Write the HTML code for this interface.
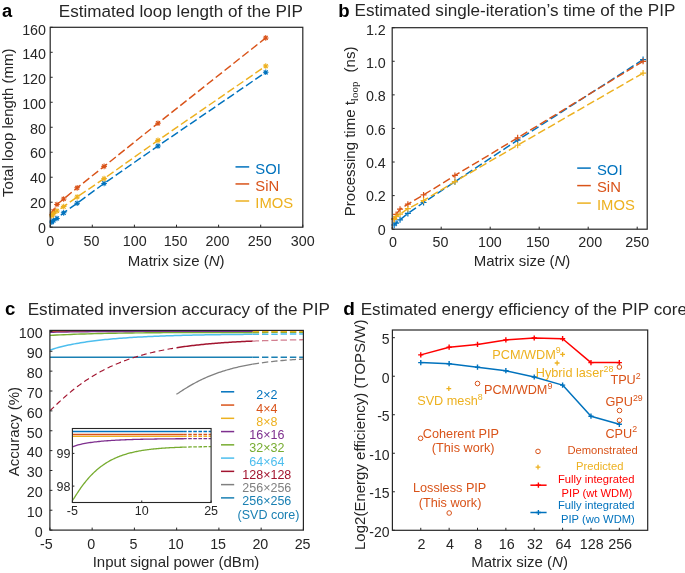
<!DOCTYPE html>
<html><head><meta charset="utf-8"><style>
html,body{margin:0;padding:0;background:#fff;}
svg{display:block;will-change:transform;}
text{font-family:"Liberation Sans", sans-serif;}
</style></head><body>
<svg width="685" height="573" viewBox="0 0 685 573">
<rect width="685" height="573" fill="#fff"/>
<text x="2" y="16.6" font-size="18.3" fill="#000" text-anchor="start" font-weight="bold" >a</text>
<text x="58.8" y="16.6" font-size="17.1" fill="#262626" text-anchor="start" font-weight="normal" >Estimated loop length of the PIP</text>
<polyline points="51.88,222.08 53.57,220.33 56.94,218.45 63.67,212.83 77.14,203.21 104.09,183.47 157.98,145.99 265.75,72.28" fill="none" stroke="#0072BD" stroke-width="1.45" stroke-dasharray="8,3.3" stroke-linejoin="round"/>
<path d="M49.08,222.08H54.68M51.88,219.28V224.88M49.87,220.06L53.9,224.09M49.87,224.09L53.9,220.06" stroke="#0072BD" stroke-width="1.05" fill="none"/>
<path d="M50.77,220.33H56.37M53.57,217.53V223.13M51.55,218.31L55.58,222.34M51.55,222.34L55.58,218.31" stroke="#0072BD" stroke-width="1.05" fill="none"/>
<path d="M54.14,218.45H59.74M56.94,215.65V221.25M54.92,216.44L58.95,220.47M54.92,220.47L58.95,216.44" stroke="#0072BD" stroke-width="1.05" fill="none"/>
<path d="M60.87,212.83H66.47M63.67,210.03V215.63M61.66,210.82L65.69,214.85M61.66,214.85L65.69,210.82" stroke="#0072BD" stroke-width="1.05" fill="none"/>
<path d="M74.34,203.21H79.94M77.14,200.41V206.01M75.13,201.2L79.16,205.23M75.13,205.23L79.16,201.2" stroke="#0072BD" stroke-width="1.05" fill="none"/>
<path d="M101.29,183.47H106.89M104.09,180.67V186.27M102.07,181.46L106.1,185.49M102.07,185.49L106.1,181.46" stroke="#0072BD" stroke-width="1.05" fill="none"/>
<path d="M155.18,145.99H160.78M157.98,143.19V148.79M155.96,143.97L159.99,148.01M155.96,148.01L159.99,143.97" stroke="#0072BD" stroke-width="1.05" fill="none"/>
<path d="M262.95,72.28H268.55M265.75,69.48V75.08M263.74,70.26L267.77,74.29M263.74,74.29L267.77,70.26" stroke="#0072BD" stroke-width="1.05" fill="none"/>
<polyline points="51.88,214.71 53.57,211.21 56.94,204.46 63.67,198.96 77.14,187.84 104.09,166.36 157.98,123.25 265.75,37.92" fill="none" stroke="#D95319" stroke-width="1.45" stroke-dasharray="8,3.3" stroke-linejoin="round"/>
<path d="M49.08,214.71H54.68M51.88,211.91V217.51M49.87,212.69L53.9,216.72M49.87,216.72L53.9,212.69" stroke="#D95319" stroke-width="1.05" fill="none"/>
<path d="M50.77,211.21H56.37M53.57,208.41V214.01M51.55,209.19L55.58,213.22M51.55,213.22L55.58,209.19" stroke="#D95319" stroke-width="1.05" fill="none"/>
<path d="M54.14,204.46H59.74M56.94,201.66V207.26M54.92,202.45L58.95,206.48M54.92,206.48L58.95,202.45" stroke="#D95319" stroke-width="1.05" fill="none"/>
<path d="M60.87,198.96H66.47M63.67,196.16V201.76M61.66,196.95L65.69,200.98M61.66,200.98L65.69,196.95" stroke="#D95319" stroke-width="1.05" fill="none"/>
<path d="M74.34,187.84H79.94M77.14,185.04V190.64M75.13,185.83L79.16,189.86M75.13,189.86L79.16,185.83" stroke="#D95319" stroke-width="1.05" fill="none"/>
<path d="M101.29,166.36H106.89M104.09,163.56V169.16M102.07,164.34L106.1,168.37M102.07,168.37L106.1,164.34" stroke="#D95319" stroke-width="1.05" fill="none"/>
<path d="M155.18,123.25H160.78M157.98,120.45V126.05M155.96,121.24L159.99,125.27M155.96,125.27L159.99,121.24" stroke="#D95319" stroke-width="1.05" fill="none"/>
<path d="M262.95,37.92H268.55M265.75,35.12V40.72M263.74,35.9L267.77,39.94M263.74,39.94L267.77,35.9" stroke="#D95319" stroke-width="1.05" fill="none"/>
<polyline points="51.88,215.71 53.57,213.46 56.94,210.96 63.67,206.59 77.14,196.97 104.09,178.6 157.98,140.37 265.75,66.03" fill="none" stroke="#EDB120" stroke-width="1.45" stroke-dasharray="8,3.3" stroke-linejoin="round"/>
<path d="M49.08,215.71H54.68M51.88,212.91V218.51M49.87,213.69L53.9,217.72M49.87,217.72L53.9,213.69" stroke="#EDB120" stroke-width="1.05" fill="none"/>
<path d="M50.77,213.46H56.37M53.57,210.66V216.26M51.55,211.44L55.58,215.47M51.55,215.47L55.58,211.44" stroke="#EDB120" stroke-width="1.05" fill="none"/>
<path d="M54.14,210.96H59.74M56.94,208.16V213.76M54.92,208.94L58.95,212.97M54.92,212.97L58.95,208.94" stroke="#EDB120" stroke-width="1.05" fill="none"/>
<path d="M60.87,206.59H66.47M63.67,203.79V209.39M61.66,204.57L65.69,208.6M61.66,208.6L65.69,204.57" stroke="#EDB120" stroke-width="1.05" fill="none"/>
<path d="M74.34,196.97H79.94M77.14,194.17V199.77M75.13,194.95L79.16,198.98M75.13,198.98L79.16,194.95" stroke="#EDB120" stroke-width="1.05" fill="none"/>
<path d="M101.29,178.6H106.89M104.09,175.8V181.4M102.07,176.58L106.1,180.62M102.07,180.62L106.1,176.58" stroke="#EDB120" stroke-width="1.05" fill="none"/>
<path d="M155.18,140.37H160.78M157.98,137.57V143.17M155.96,138.35L159.99,142.38M155.96,142.38L159.99,138.35" stroke="#EDB120" stroke-width="1.05" fill="none"/>
<path d="M262.95,66.03H268.55M265.75,63.23V68.83M263.74,64.01L267.77,68.05M263.74,68.05L267.77,64.01" stroke="#EDB120" stroke-width="1.05" fill="none"/>
<rect x="50.2" y="27.3" width="252.6" height="199.9" fill="none" stroke="#262626" stroke-width="1.2"/>
<path d="M50.2,227.2H52.7" stroke="#262626" stroke-width="1.0"/>
<path d="M50.2,202.21H52.7" stroke="#262626" stroke-width="1.0"/>
<path d="M50.2,177.22H52.7" stroke="#262626" stroke-width="1.0"/>
<path d="M50.2,152.24H52.7" stroke="#262626" stroke-width="1.0"/>
<path d="M50.2,127.25H52.7" stroke="#262626" stroke-width="1.0"/>
<path d="M50.2,102.26H52.7" stroke="#262626" stroke-width="1.0"/>
<path d="M50.2,77.28H52.7" stroke="#262626" stroke-width="1.0"/>
<path d="M50.2,52.29H52.7" stroke="#262626" stroke-width="1.0"/>
<path d="M50.2,27.3H52.7" stroke="#262626" stroke-width="1.0"/>
<path d="M50.2,227.2V224.7" stroke="#262626" stroke-width="1.0"/>
<path d="M92.3,227.2V224.7" stroke="#262626" stroke-width="1.0"/>
<path d="M134.4,227.2V224.7" stroke="#262626" stroke-width="1.0"/>
<path d="M176.5,227.2V224.7" stroke="#262626" stroke-width="1.0"/>
<path d="M218.6,227.2V224.7" stroke="#262626" stroke-width="1.0"/>
<path d="M260.7,227.2V224.7" stroke="#262626" stroke-width="1.0"/>
<path d="M302.8,227.2V224.7" stroke="#262626" stroke-width="1.0"/>
<text x="46" y="34.5" font-size="14.3" fill="#262626" text-anchor="end" font-weight="normal" >160</text>
<text x="46" y="59.25" font-size="14.3" fill="#262626" text-anchor="end" font-weight="normal" >140</text>
<text x="46" y="84" font-size="14.3" fill="#262626" text-anchor="end" font-weight="normal" >120</text>
<text x="46" y="108.75" font-size="14.3" fill="#262626" text-anchor="end" font-weight="normal" >100</text>
<text x="46" y="133.5" font-size="14.3" fill="#262626" text-anchor="end" font-weight="normal" >80</text>
<text x="46" y="158.25" font-size="14.3" fill="#262626" text-anchor="end" font-weight="normal" >60</text>
<text x="46" y="183" font-size="14.3" fill="#262626" text-anchor="end" font-weight="normal" >40</text>
<text x="46" y="207.75" font-size="14.3" fill="#262626" text-anchor="end" font-weight="normal" >20</text>
<text x="46" y="232.5" font-size="14.3" fill="#262626" text-anchor="end" font-weight="normal" >0</text>
<text x="50.3" y="246.3" font-size="14.3" fill="#262626" text-anchor="middle" font-weight="normal" >0</text>
<text x="91.4" y="246.3" font-size="14.3" fill="#262626" text-anchor="middle" font-weight="normal" >50</text>
<text x="134.7" y="246.3" font-size="14.3" fill="#262626" text-anchor="middle" font-weight="normal" >100</text>
<text x="175.6" y="246.3" font-size="14.3" fill="#262626" text-anchor="middle" font-weight="normal" >150</text>
<text x="217.5" y="246.3" font-size="14.3" fill="#262626" text-anchor="middle" font-weight="normal" >200</text>
<text x="259.7" y="246.3" font-size="14.3" fill="#262626" text-anchor="middle" font-weight="normal" >250</text>
<text x="302.7" y="246.3" font-size="14.3" fill="#262626" text-anchor="middle" font-weight="normal" >300</text>
<text x="176.2" y="265.6" font-size="15" fill="#262626" text-anchor="middle" font-weight="normal" >Matrix size (<tspan font-style="italic">N</tspan>)</text>
<text transform="translate(12.8,122.7) rotate(-90)" font-size="15" fill="#262626" text-anchor="middle" >Total loop length (mm)</text>
<path d="M235.5,166.9H249.2" stroke="#0072BD" stroke-width="1.5"/>
<text x="255.3" y="173.5" font-size="14.8" fill="#0072BD" text-anchor="start" font-weight="normal" >SOI</text>
<path d="M235.5,183.95H249.2" stroke="#D95319" stroke-width="1.5"/>
<text x="255.3" y="190.55" font-size="14.8" fill="#D95319" text-anchor="start" font-weight="normal" >SiN</text>
<path d="M235.5,201H249.2" stroke="#EDB120" stroke-width="1.5"/>
<text x="255.3" y="207.6" font-size="14.8" fill="#EDB120" text-anchor="start" font-weight="normal" >IMOS</text>
<text x="338.3" y="16.6" font-size="18.6" fill="#000" text-anchor="start" font-weight="bold" >b</text>
<text x="354.6" y="16.3" font-size="17.1" fill="#262626" text-anchor="start" font-weight="normal" >Estimated single-iteration’s time of the PIP</text>
<polyline points="643.08,59.6 517.64,140.2 454.92,181.68 423.56,202.5 407.88,213.42 400.04,219.8 396.12,223.16 394.16,225" fill="none" stroke="#0072BD" stroke-width="1.45" stroke-dasharray="8,3.3" stroke-linejoin="round"/>
<path d="M391.16,225H397.16M394.16,222V228" stroke="#0072BD" stroke-width="1.2" fill="none"/>
<path d="M393.12,223.16H399.12M396.12,220.16V226.16" stroke="#0072BD" stroke-width="1.2" fill="none"/>
<path d="M397.04,219.8H403.04M400.04,216.8V222.8" stroke="#0072BD" stroke-width="1.2" fill="none"/>
<path d="M404.88,213.42H410.88M407.88,210.42V216.42" stroke="#0072BD" stroke-width="1.2" fill="none"/>
<path d="M420.56,202.5H426.56M423.56,199.5V205.5" stroke="#0072BD" stroke-width="1.2" fill="none"/>
<path d="M451.92,181.68H457.92M454.92,178.68V184.68" stroke="#0072BD" stroke-width="1.2" fill="none"/>
<path d="M514.64,140.2H520.64M517.64,137.2V143.2" stroke="#0072BD" stroke-width="1.2" fill="none"/>
<path d="M640.08,59.6H646.08M643.08,56.6V62.6" stroke="#0072BD" stroke-width="1.2" fill="none"/>
<polyline points="643.08,61.28 517.64,137.85 454.92,175.47 423.56,194.94 407.88,204.18 400.04,209.22 396.12,214.42 394.16,218.79" fill="none" stroke="#D95319" stroke-width="1.45" stroke-dasharray="8,3.3" stroke-linejoin="round"/>
<path d="M391.16,218.79H397.16M394.16,215.79V221.79" stroke="#D95319" stroke-width="1.2" fill="none"/>
<path d="M393.12,214.42H399.12M396.12,211.42V217.42" stroke="#D95319" stroke-width="1.2" fill="none"/>
<path d="M397.04,209.22H403.04M400.04,206.22V212.22" stroke="#D95319" stroke-width="1.2" fill="none"/>
<path d="M404.88,204.18H410.88M407.88,201.18V207.18" stroke="#D95319" stroke-width="1.2" fill="none"/>
<path d="M420.56,194.94H426.56M423.56,191.94V197.94" stroke="#D95319" stroke-width="1.2" fill="none"/>
<path d="M451.92,175.47H457.92M454.92,172.47V178.47" stroke="#D95319" stroke-width="1.2" fill="none"/>
<path d="M514.64,137.85H520.64M517.64,134.85V140.85" stroke="#D95319" stroke-width="1.2" fill="none"/>
<path d="M640.08,61.28H646.08M643.08,58.28V64.28" stroke="#D95319" stroke-width="1.2" fill="none"/>
<polyline points="643.08,73.04 517.64,145.24 454.92,181.68 423.56,200.49 407.88,208.71 400.04,214.09 396.12,216.61 394.16,219.46" fill="none" stroke="#EDB120" stroke-width="1.45" stroke-dasharray="8,3.3" stroke-linejoin="round"/>
<path d="M391.16,219.46H397.16M394.16,216.46V222.46" stroke="#EDB120" stroke-width="1.2" fill="none"/>
<path d="M393.12,216.61H399.12M396.12,213.61V219.61" stroke="#EDB120" stroke-width="1.2" fill="none"/>
<path d="M397.04,214.09H403.04M400.04,211.09V217.09" stroke="#EDB120" stroke-width="1.2" fill="none"/>
<path d="M404.88,208.71H410.88M407.88,205.71V211.71" stroke="#EDB120" stroke-width="1.2" fill="none"/>
<path d="M420.56,200.49H426.56M423.56,197.49V203.49" stroke="#EDB120" stroke-width="1.2" fill="none"/>
<path d="M451.92,181.68H457.92M454.92,178.68V184.68" stroke="#EDB120" stroke-width="1.2" fill="none"/>
<path d="M514.64,145.24H520.64M517.64,142.24V148.24" stroke="#EDB120" stroke-width="1.2" fill="none"/>
<path d="M640.08,73.04H646.08M643.08,70.04V76.04" stroke="#EDB120" stroke-width="1.2" fill="none"/>
<rect x="392.2" y="27.7" width="255" height="201.5" fill="none" stroke="#262626" stroke-width="1.2"/>
<path d="M392.2,229.2H394.7" stroke="#262626" stroke-width="1.0"/>
<path d="M392.2,195.62H394.7" stroke="#262626" stroke-width="1.0"/>
<path d="M392.2,162.03H394.7" stroke="#262626" stroke-width="1.0"/>
<path d="M392.2,128.45H394.7" stroke="#262626" stroke-width="1.0"/>
<path d="M392.2,94.87H394.7" stroke="#262626" stroke-width="1.0"/>
<path d="M392.2,61.28H394.7" stroke="#262626" stroke-width="1.0"/>
<path d="M392.2,27.7H394.7" stroke="#262626" stroke-width="1.0"/>
<path d="M392.2,229.2V226.7" stroke="#262626" stroke-width="1.0"/>
<path d="M441.2,229.2V226.7" stroke="#262626" stroke-width="1.0"/>
<path d="M490.2,229.2V226.7" stroke="#262626" stroke-width="1.0"/>
<path d="M539.2,229.2V226.7" stroke="#262626" stroke-width="1.0"/>
<path d="M588.2,229.2V226.7" stroke="#262626" stroke-width="1.0"/>
<path d="M637.2,229.2V226.7" stroke="#262626" stroke-width="1.0"/>
<text x="385.8" y="234.6" font-size="14.3" fill="#262626" text-anchor="end" font-weight="normal" >0</text>
<text x="385.8" y="201.27" font-size="14.3" fill="#262626" text-anchor="end" font-weight="normal" >0.2</text>
<text x="385.8" y="167.93" font-size="14.3" fill="#262626" text-anchor="end" font-weight="normal" >0.4</text>
<text x="385.8" y="134.6" font-size="14.3" fill="#262626" text-anchor="end" font-weight="normal" >0.6</text>
<text x="385.8" y="101.27" font-size="14.3" fill="#262626" text-anchor="end" font-weight="normal" >0.8</text>
<text x="385.8" y="67.93" font-size="14.3" fill="#262626" text-anchor="end" font-weight="normal" >1.0</text>
<text x="385.8" y="34.6" font-size="14.3" fill="#262626" text-anchor="end" font-weight="normal" >1.2</text>
<text x="392.9" y="246.5" font-size="14.3" fill="#262626" text-anchor="middle" font-weight="normal" >0</text>
<text x="440.5" y="246.5" font-size="14.3" fill="#262626" text-anchor="middle" font-weight="normal" >50</text>
<text x="489.9" y="246.5" font-size="14.3" fill="#262626" text-anchor="middle" font-weight="normal" >100</text>
<text x="537.9" y="246.5" font-size="14.3" fill="#262626" text-anchor="middle" font-weight="normal" >150</text>
<text x="590.2" y="246.5" font-size="14.3" fill="#262626" text-anchor="middle" font-weight="normal" >200</text>
<text x="637.3" y="246.5" font-size="14.3" fill="#262626" text-anchor="middle" font-weight="normal" >250</text>
<text x="522" y="265.8" font-size="15" fill="#262626" text-anchor="middle" font-weight="normal" >Matrix size (<tspan font-style="italic">N</tspan>)</text>
<text transform="translate(355.3,216.2) rotate(-90)" font-size="15" fill="#262626" text-anchor="start">Processing time t<tspan font-family="Liberation Serif" font-size="11" dy="2.2">loop</tspan><tspan dy="-2.2" dx="5"> (ns)</tspan></text>
<path d="M577.2,168.1H590.8" stroke="#0072BD" stroke-width="1.5"/>
<text x="597" y="174.5" font-size="14.8" fill="#0072BD" text-anchor="start" font-weight="normal" >SOI</text>
<path d="M577.2,185.6H590.8" stroke="#D95319" stroke-width="1.5"/>
<text x="597" y="192" font-size="14.8" fill="#D95319" text-anchor="start" font-weight="normal" >SiN</text>
<path d="M577.2,203.1H590.8" stroke="#EDB120" stroke-width="1.5"/>
<text x="597" y="209.5" font-size="14.8" fill="#EDB120" text-anchor="start" font-weight="normal" >IMOS</text>
<text x="5" y="315.4" font-size="18.6" fill="#000" text-anchor="start" font-weight="bold" >c</text>
<text x="27.7" y="315" font-size="17.1" fill="#262626" text-anchor="start" font-weight="normal" >Estimated inversion accuracy of the PIP</text>
<defs><clipPath id="cc"><rect x="49.9" y="330.4" width="253.5" height="199.7"/></clipPath><clipPath id="ci"><rect x="72.4" y="428.5" width="138.7" height="74"/></clipPath></defs>
<g clip-path="url(#cc)">
<polyline points="49.9,357.3 252.7,357.3" fill="none" stroke="#1A80B3" stroke-width="1.5" stroke-linejoin="round"/>
<polyline points="252.7,357.3 303.4,357.3" fill="none" stroke="#1A80B3" stroke-width="1.5" stroke-dasharray="6.4,2.9" stroke-linejoin="round"/>
<polyline points="176.4,394.31 177.69,393.52 178.98,392.68 180.28,391.83 181.57,390.99 182.86,390.15 184.16,389.32 185.45,388.5 186.74,387.7 188.04,386.91 189.33,386.14 190.62,385.38 191.92,384.64 193.21,383.91 194.5,383.2 195.8,382.51 197.09,381.82 198.38,381.16 199.68,380.51 200.97,379.88 202.26,379.26 203.56,378.65 204.85,378.06 206.14,377.48 207.44,376.92 208.73,376.37 210.02,375.84 211.32,375.32 212.61,374.81 213.9,374.31 215.19,373.83 216.49,373.36 217.78,372.9 219.07,372.45 220.37,372.02 221.66,371.59 222.95,371.18 224.25,370.78 225.54,370.39 226.83,370 228.13,369.63 229.42,369.27 230.71,368.92 232.01,368.58 233.3,368.24 234.59,367.92 235.89,367.6 237.18,367.29 238.47,366.99 239.77,366.7 241.06,366.42 242.35,366.14 243.65,365.87 244.94,365.61 246.23,365.36 247.53,365.11 248.82,364.87 250.11,364.64 251.41,364.41 252.7,364.19" fill="none" stroke="#808080" stroke-width="1.3" stroke-linejoin="round"/>
<polyline points="252.7,364.19 254.45,363.9 256.2,363.62 257.94,363.36 259.69,363.1 261.44,362.85 263.19,362.61 264.94,362.38 266.69,362.16 268.43,361.95 270.18,361.74 271.93,361.54 273.68,361.35 275.43,361.17 277.18,361 278.92,360.83 280.67,360.66 282.42,360.51 284.17,360.36 285.92,360.21 287.67,360.07 289.41,359.94 291.16,359.81 292.91,359.69 294.66,359.57 296.41,359.45 298.16,359.34 299.9,359.24 301.65,359.14 303.4,359.04" fill="none" stroke="#808080" stroke-width="1.3" stroke-dasharray="6.4,2.9" stroke-linejoin="round"/>
<polyline points="49.9,410.58 51.18,409.48 52.46,408.3 53.74,407.09 55.02,405.88 56.3,404.67 57.58,403.47 58.86,402.27 60.14,401.08 61.42,399.91 62.7,398.75 63.98,397.6 65.26,396.47 66.54,395.36 67.82,394.26 69.1,393.18 70.38,392.11 71.67,391.06 72.95,390.02 74.23,389.01 75.51,388.01 76.79,387.02 78.07,386.06 79.35,385.1 80.63,384.17 81.91,383.25 83.19,382.35 84.47,381.46 85.75,380.59 87.03,379.74 88.31,378.9 89.59,378.08 90.87,377.27 92.15,376.47 93.43,375.7 94.71,374.93 95.99,374.18 97.27,373.45 98.55,372.72 99.83,372.02 101.11,371.32 102.39,370.64 103.67,369.97 104.95,369.32 106.23,368.68 107.51,368.05 108.79,367.43 110.07,366.82 111.35,366.23 112.63,365.65 113.92,365.08 115.2,364.52 116.48,363.97 117.76,363.44 119.04,362.91 120.32,362.4 121.6,361.89 122.88,361.4 124.16,360.91 125.44,360.44 126.72,359.97 128,359.52 129.28,359.07 130.56,358.64 131.84,358.21 133.12,357.79 134.4,357.38 135.68,356.98 136.96,356.58 138.24,356.2 139.52,355.82 140.8,355.45 142.08,355.09 143.36,354.73 144.64,354.38 145.92,354.04 147.2,353.71 148.48,353.39 149.76,353.07 151.04,352.75 152.32,352.45 153.6,352.15 154.88,351.86 156.17,351.57 157.45,351.29 158.73,351.01 160.01,350.75 161.29,350.48 162.57,350.23 163.85,349.97 165.13,349.73 166.41,349.48 167.69,349.25 168.97,349.02 170.25,348.79 171.53,348.57 172.81,348.35 174.09,348.14 175.37,347.93 176.65,347.73" fill="none" stroke="#A2142F" stroke-width="1.15" stroke-dasharray="5.6,3.4" stroke-linejoin="round"/>
<polyline points="176.65,347.73 178.2,347.49 179.75,347.26 181.31,347.03 182.86,346.81 184.41,346.59 185.96,346.38 187.51,346.18 189.07,345.98 190.62,345.78 192.17,345.59 193.72,345.41 195.27,345.23 196.83,345.06 198.38,344.89 199.93,344.72 201.48,344.56 203.03,344.4 204.59,344.25 206.14,344.1 207.69,343.96 209.24,343.82 210.79,343.68 212.35,343.55 213.9,343.42 215.45,343.29 217,343.17 218.56,343.05 220.11,342.93 221.66,342.82 223.21,342.71 224.76,342.6 226.32,342.5 227.87,342.4 229.42,342.3 230.97,342.2 232.52,342.11 234.08,342.02 235.63,341.93 237.18,341.84 238.73,341.76 240.28,341.68 241.84,341.6 243.39,341.52 244.94,341.44 246.49,341.37 248.04,341.3 249.6,341.23 251.15,341.16 252.7,341.1" fill="none" stroke="#A2142F" stroke-width="1.5" stroke-linejoin="round"/>
<polyline points="252.7,341.1 254.45,341.03 256.2,340.96 257.94,340.89 259.69,340.82 261.44,340.76 263.19,340.7 264.94,340.64 266.69,340.58 268.43,340.53 270.18,340.47 271.93,340.42 273.68,340.37 275.43,340.32 277.18,340.27 278.92,340.23 280.67,340.18 282.42,340.14 284.17,340.1 285.92,340.06 287.67,340.02 289.41,339.98 291.16,339.94 292.91,339.91 294.66,339.87 296.41,339.84 298.16,339.81 299.9,339.77 301.65,339.74 303.4,339.71" fill="none" stroke="#D27F90" stroke-width="1.3" stroke-dasharray="6.4,2.9" stroke-linejoin="round"/>
<polyline points="49.9,350.09 51.95,349.43 54,348.76 56.05,348.14 58.09,347.56 60.14,347.01 62.19,346.49 64.24,346 66.29,345.53 68.34,345.09 70.38,344.66 72.43,344.26 74.48,343.87 76.53,343.49 78.58,343.14 80.63,342.79 82.68,342.47 84.72,342.15 86.77,341.85 88.82,341.56 90.87,341.28 92.92,341.01 94.97,340.76 97.02,340.51 99.06,340.27 101.11,340.04 103.16,339.82 105.21,339.61 107.26,339.41 109.31,339.21 111.35,339.02 113.4,338.84 115.45,338.66 117.5,338.5 119.55,338.33 121.6,338.18 123.65,338.03 125.69,337.88 127.74,337.74 129.79,337.6 131.84,337.47 133.89,337.35 135.94,337.23 137.98,337.11 140.03,337 142.08,336.89 144.13,336.78 146.18,336.68 148.23,336.58 150.28,336.49 152.32,336.4 154.37,336.31 156.42,336.23 158.47,336.14 160.52,336.07 162.57,335.99 164.62,335.92 166.66,335.85 168.71,335.78 170.76,335.71 172.81,335.65 174.86,335.58 176.91,335.52 178.95,335.47 181,335.41 183.05,335.36 185.1,335.31 187.15,335.26 189.2,335.21 191.25,335.16 193.29,335.11 195.34,335.07 197.39,335.03 199.44,334.99 201.49,334.95 203.54,334.91 205.58,334.87 207.63,334.84 209.68,334.8 211.73,334.77 213.78,334.74 215.83,334.71 217.88,334.68 219.92,334.65 221.97,334.62 224.02,334.59 226.07,334.57 228.12,334.54 230.17,334.52 232.22,334.49 234.26,334.47 236.31,334.45 238.36,334.43 240.41,334.41 242.46,334.39 244.51,334.37 246.55,334.35 248.6,334.33 250.65,334.31 252.7,334.29" fill="none" stroke="#4DBEEE" stroke-width="1.5" stroke-linejoin="round"/>
<polyline points="252.7,334.29 255.37,334.27 258.04,334.25 260.71,334.23 263.37,334.21 266.04,334.2 268.71,334.18 271.38,334.16 274.05,334.15 276.72,334.13 279.38,334.12 282.05,334.1 284.72,334.09 287.39,334.08 290.06,334.07 292.73,334.05 295.39,334.04 298.06,334.03 300.73,334.02 303.4,334.01" fill="none" stroke="#4DBEEE" stroke-width="1.5" stroke-dasharray="6.4,2.9" stroke-linejoin="round"/>
<polyline points="49.9,331.2 252.7,331.2" fill="none" stroke="#EDB120" stroke-width="1.2" stroke-linejoin="round"/>
<polyline points="49.9,331.5 252.7,331.5" fill="none" stroke="#D95319" stroke-width="1.2" stroke-linejoin="round"/>
<polyline points="49.9,335.4 53.34,335.23 56.77,335.06 60.21,334.89 63.65,334.73 67.09,334.58 70.52,334.43 73.96,334.3 77.4,334.17 80.84,334.05 84.27,333.93 87.71,333.83 91.15,333.73 94.58,333.63 98.02,333.55 101.46,333.46 104.9,333.39 108.33,333.32 111.77,333.25 115.21,333.19 118.65,333.13 122.08,333.08 125.52,333.03 128.96,332.98 132.39,332.94 135.83,332.9 139.27,332.86 142.71,332.83 146.14,332.8 149.58,332.77 153.02,332.74 156.46,332.71 159.89,332.69 163.33,332.67 166.77,332.65 170.21,332.63 173.64,332.61 177.08,332.6 180.52,332.58 183.95,332.57 187.39,332.56 190.83,332.54 194.27,332.53 197.7,332.52 201.14,332.51 204.58,332.5 208.02,332.5 211.45,332.49 214.89,332.48 218.33,332.48 221.76,332.47 225.2,332.46 228.64,332.46 232.08,332.45 235.51,332.45 238.95,332.45 242.39,332.44 245.83,332.44 249.26,332.44 252.7,332.43" fill="none" stroke="#77AC30" stroke-width="1.4" stroke-linejoin="round"/>
<polyline points="252.7,332.43 258.33,332.43 263.97,332.43 269.6,332.42 275.23,332.42 280.87,332.42 286.5,332.42 292.13,332.41 297.77,332.41 303.4,332.41" fill="none" stroke="#77AC30" stroke-width="1.4" stroke-dasharray="6.4,2.9" stroke-linejoin="round"/>
<polyline points="49.9,332.4 53.34,332.29 56.77,332.21 60.21,332.13 63.65,332.06 67.09,332 70.52,331.95 73.96,331.9 77.4,331.86 80.84,331.82 84.27,331.78 87.71,331.75 91.15,331.71 94.58,331.68 98.02,331.66 101.46,331.63 104.9,331.61 108.33,331.59 111.77,331.57 115.21,331.55 118.65,331.53 122.08,331.52 125.52,331.5 128.96,331.49 132.39,331.48 135.83,331.47 139.27,331.45 142.71,331.44 146.14,331.43 149.58,331.43 153.02,331.42 156.46,331.41 159.89,331.4 163.33,331.4 166.77,331.39 170.21,331.38 173.64,331.38 177.08,331.37 180.52,331.37 183.95,331.37 187.39,331.36 190.83,331.36 194.27,331.35 197.7,331.35 201.14,331.35 204.58,331.34 208.02,331.34 211.45,331.34 214.89,331.34 218.33,331.33 221.76,331.33 225.2,331.33 228.64,331.33 232.08,331.33 235.51,331.32 238.95,331.32 242.39,331.32 245.83,331.32 249.26,331.32 252.7,331.32" fill="none" stroke="#7E2F8E" stroke-width="1.3" stroke-linejoin="round"/>
<polyline points="252.7,331.6 303.4,331.6" fill="none" stroke="#EDB120" stroke-width="1.4" stroke-dasharray="6.4,2.9" stroke-linejoin="round"/>
</g>
<rect x="49.9" y="330.4" width="253.5" height="199.7" fill="none" stroke="#262626" stroke-width="1.2"/>
<path d="M49.9,530.1H52.4" stroke="#262626" stroke-width="1.0"/>
<path d="M49.9,510.23H52.4" stroke="#262626" stroke-width="1.0"/>
<path d="M49.9,490.36H52.4" stroke="#262626" stroke-width="1.0"/>
<path d="M49.9,470.49H52.4" stroke="#262626" stroke-width="1.0"/>
<path d="M49.9,450.62H52.4" stroke="#262626" stroke-width="1.0"/>
<path d="M49.9,430.75H52.4" stroke="#262626" stroke-width="1.0"/>
<path d="M49.9,410.88H52.4" stroke="#262626" stroke-width="1.0"/>
<path d="M49.9,391.01H52.4" stroke="#262626" stroke-width="1.0"/>
<path d="M49.9,371.14H52.4" stroke="#262626" stroke-width="1.0"/>
<path d="M49.9,351.27H52.4" stroke="#262626" stroke-width="1.0"/>
<path d="M49.9,331.4H52.4" stroke="#262626" stroke-width="1.0"/>
<path d="M49.9,530.1V527.6" stroke="#262626" stroke-width="1.0"/>
<path d="M92.15,530.1V527.6" stroke="#262626" stroke-width="1.0"/>
<path d="M134.4,530.1V527.6" stroke="#262626" stroke-width="1.0"/>
<path d="M176.65,530.1V527.6" stroke="#262626" stroke-width="1.0"/>
<path d="M218.9,530.1V527.6" stroke="#262626" stroke-width="1.0"/>
<path d="M261.15,530.1V527.6" stroke="#262626" stroke-width="1.0"/>
<path d="M303.4,530.1V527.6" stroke="#262626" stroke-width="1.0"/>
<text x="42.6" y="536.9" font-size="14.3" fill="#262626" text-anchor="end" font-weight="normal" >0</text>
<text x="42.6" y="517.03" font-size="14.3" fill="#262626" text-anchor="end" font-weight="normal" >10</text>
<text x="42.6" y="497.16" font-size="14.3" fill="#262626" text-anchor="end" font-weight="normal" >20</text>
<text x="42.6" y="477.29" font-size="14.3" fill="#262626" text-anchor="end" font-weight="normal" >30</text>
<text x="42.6" y="457.42" font-size="14.3" fill="#262626" text-anchor="end" font-weight="normal" >40</text>
<text x="42.6" y="437.55" font-size="14.3" fill="#262626" text-anchor="end" font-weight="normal" >50</text>
<text x="42.6" y="417.68" font-size="14.3" fill="#262626" text-anchor="end" font-weight="normal" >60</text>
<text x="42.6" y="397.81" font-size="14.3" fill="#262626" text-anchor="end" font-weight="normal" >70</text>
<text x="42.6" y="377.94" font-size="14.3" fill="#262626" text-anchor="end" font-weight="normal" >80</text>
<text x="42.6" y="358.07" font-size="14.3" fill="#262626" text-anchor="end" font-weight="normal" >90</text>
<text x="42.6" y="338.2" font-size="14.3" fill="#262626" text-anchor="end" font-weight="normal" >100</text>
<text x="46.3" y="548.6" font-size="14.3" fill="#262626" text-anchor="middle" font-weight="normal" >-5</text>
<text x="91.35" y="548.6" font-size="14.3" fill="#262626" text-anchor="middle" font-weight="normal" >0</text>
<text x="133.6" y="548.6" font-size="14.3" fill="#262626" text-anchor="middle" font-weight="normal" >5</text>
<text x="175.85" y="548.6" font-size="14.3" fill="#262626" text-anchor="middle" font-weight="normal" >10</text>
<text x="218.1" y="548.6" font-size="14.3" fill="#262626" text-anchor="middle" font-weight="normal" >15</text>
<text x="260.35" y="548.6" font-size="14.3" fill="#262626" text-anchor="middle" font-weight="normal" >20</text>
<text x="302.6" y="548.6" font-size="14.3" fill="#262626" text-anchor="middle" font-weight="normal" >25</text>
<text x="176" y="567.4" font-size="15" fill="#262626" text-anchor="middle" font-weight="normal" >Input signal power (dBm)</text>
<text transform="translate(18.8,431.6) rotate(-90)" font-size="15" fill="#262626" text-anchor="middle" >Accuracy (%)</text>
<rect x="72.4" y="428.5" width="138.7" height="74" fill="#fff" stroke="none"/>
<g clip-path="url(#ci)">
<polyline points="72.4,500.59 73.33,499.25 74.26,497.82 75.19,496.36 76.12,494.91 77.05,493.48 77.98,492.07 78.91,490.68 79.84,489.32 80.77,487.99 81.7,486.69 82.63,485.43 83.56,484.19 84.49,482.98 85.42,481.81 86.35,480.67 87.28,479.56 88.21,478.48 89.14,477.43 90.07,476.41 91.01,475.42 91.94,474.46 92.87,473.53 93.8,472.63 94.73,471.75 95.66,470.9 96.59,470.08 97.52,469.28 98.45,468.51 99.38,467.76 100.31,467.03 101.24,466.33 102.17,465.65 103.1,464.99 104.03,464.35 104.96,463.73 105.89,463.14 106.82,462.56 107.75,462 108.68,461.46 109.61,460.94 110.54,460.43 111.47,459.94 112.4,459.47 113.33,459.01 114.26,458.57 115.19,458.14 116.12,457.73 117.05,457.33 117.98,456.95 118.91,456.57 119.84,456.21 120.77,455.87 121.7,455.53 122.63,455.21 123.56,454.89 124.49,454.59 125.42,454.3 126.35,454.02 127.28,453.74 128.22,453.48 129.15,453.23 130.08,452.98 131.01,452.75 131.94,452.52 132.87,452.3 133.8,452.08 134.73,451.88 135.66,451.68 136.59,451.49 137.52,451.31 138.45,451.13 139.38,450.96 140.31,450.79 141.24,450.63 142.17,450.48 143.1,450.33 144.03,450.19 144.96,450.05 145.89,449.91 146.82,449.79 147.75,449.66 148.68,449.54 149.61,449.43 150.54,449.32 151.47,449.21 152.4,449.11 153.33,449.01 154.26,448.91 155.19,448.82 156.12,448.73 157.05,448.64 157.98,448.56 158.91,448.48 159.84,448.4 160.77,448.33 161.7,448.26 162.63,448.19 163.56,448.12 164.49,448.06 165.43,448 166.36,447.94 167.29,447.88 168.22,447.83 169.15,447.77 170.08,447.72 171.01,447.67 171.94,447.62 172.87,447.58 173.8,447.54 174.73,447.49 175.66,447.45 176.59,447.41 177.52,447.37 178.45,447.34 179.38,447.3 180.31,447.27 181.24,447.24 182.17,447.21 183.1,447.17" fill="none" stroke="#77AC30" stroke-width="1.3" stroke-linejoin="round"/>
<polyline points="183.1,447.17 184.57,447.13 186.05,447.09 187.52,447.05 188.99,447.01 190.47,446.97 191.94,446.94 193.42,446.91 194.89,446.88 196.36,446.85 197.84,446.82 199.31,446.8 200.78,446.77 202.26,446.75 203.73,446.73 205.21,446.71 206.68,446.69 208.15,446.67 209.63,446.66 211.1,446.64" fill="none" stroke="#77AC30" stroke-width="1.3" stroke-dasharray="3.6,1.5" stroke-linejoin="round"/>
<polyline points="72.4,446.92 73.8,446.29 75.2,445.8 76.6,445.36 78.01,444.97 79.41,444.61 80.81,444.28 82.21,443.97 83.61,443.68 85.01,443.42 86.41,443.16 87.81,442.93 89.22,442.71 90.62,442.5 92.02,442.3 93.42,442.12 94.82,441.95 96.22,441.78 97.62,441.62 99.02,441.48 100.43,441.34 101.83,441.21 103.23,441.08 104.63,440.96 106.03,440.85 107.43,440.74 108.83,440.64 110.23,440.54 111.64,440.45 113.04,440.36 114.44,440.28 115.84,440.2 117.24,440.12 118.64,440.05 120.04,439.98 121.44,439.92 122.85,439.86 124.25,439.8 125.65,439.74 127.05,439.69 128.45,439.64 129.85,439.59 131.25,439.54 132.65,439.5 134.06,439.46 135.46,439.41 136.86,439.38 138.26,439.34 139.66,439.3 141.06,439.27 142.46,439.24 143.86,439.21 145.27,439.18 146.67,439.15 148.07,439.12 149.47,439.1 150.87,439.07 152.27,439.05 153.67,439.03 155.07,439.01 156.48,438.98 157.88,438.97 159.28,438.95 160.68,438.93 162.08,438.91 163.48,438.89 164.88,438.88 166.28,438.86 167.69,438.85 169.09,438.84 170.49,438.82 171.89,438.81 173.29,438.8 174.69,438.79 176.09,438.77 177.49,438.76 178.9,438.75 180.3,438.74 181.7,438.73 183.1,438.73" fill="none" stroke="#7E2F8E" stroke-width="1.3" stroke-linejoin="round"/>
<polyline points="183.1,438.73 184.57,438.72 186.05,438.71 187.52,438.7 188.99,438.69 190.47,438.68 191.94,438.68 193.42,438.67 194.89,438.66 196.36,438.66 197.84,438.65 199.31,438.64 200.78,438.64 202.26,438.63 203.73,438.63 205.21,438.62 206.68,438.62 208.15,438.61 209.63,438.61 211.1,438.61" fill="none" stroke="#7E2F8E" stroke-width="1.3" stroke-dasharray="3.6,1.5" stroke-linejoin="round"/>
<polyline points="72.4,436.3 183.1,436.3" fill="none" stroke="#EDB120" stroke-width="1.3" stroke-linejoin="round"/>
<polyline points="183.1,436.3 211.1,436.3" fill="none" stroke="#EDB120" stroke-width="1.3" stroke-dasharray="3.6,1.5" stroke-linejoin="round"/>
<polyline points="72.4,434.5 183.1,434.5" fill="none" stroke="#D95319" stroke-width="1.3" stroke-linejoin="round"/>
<polyline points="183.1,434.5 211.1,434.5" fill="none" stroke="#D95319" stroke-width="1.3" stroke-dasharray="3.6,1.5" stroke-linejoin="round"/>
<polyline points="72.4,431.5 183.1,431.5" fill="none" stroke="#0072BD" stroke-width="1.3" stroke-linejoin="round"/>
<polyline points="183.1,431.5 211.1,431.5" fill="none" stroke="#0072BD" stroke-width="1.3" stroke-dasharray="3.6,1.5" stroke-linejoin="round"/>
</g>
<rect x="72.4" y="428.5" width="138.7" height="74" fill="none" stroke="#262626" stroke-width="1.1"/>
<path d="M72.4,486.1H74.4" stroke="#262626" stroke-width="1.0"/>
<path d="M72.4,453.4H74.4" stroke="#262626" stroke-width="1.0"/>
<path d="M72.4,502.5V500.5" stroke="#262626" stroke-width="1.0"/>
<path d="M141.75,502.5V500.5" stroke="#262626" stroke-width="1.0"/>
<path d="M211.1,502.5V500.5" stroke="#262626" stroke-width="1.0"/>
<text x="70.5" y="458" font-size="12.5" fill="#262626" text-anchor="end" font-weight="normal" >99</text>
<text x="70.5" y="491" font-size="12.5" fill="#262626" text-anchor="end" font-weight="normal" >98</text>
<text x="72.4" y="515.4" font-size="12.5" fill="#262626" text-anchor="middle" font-weight="normal" >-5</text>
<text x="141.75" y="515.4" font-size="12.5" fill="#262626" text-anchor="middle" font-weight="normal" >10</text>
<text x="211.1" y="515.4" font-size="12.5" fill="#262626" text-anchor="middle" font-weight="normal" >25</text>
<path d="M221,391.8H234.2" stroke="#0072BD" stroke-width="1.5"/>
<text x="266.8" y="399.4" font-size="12.5" fill="#0072BD" text-anchor="middle" font-weight="normal" >2×2</text>
<path d="M221,405.06H234.2" stroke="#D95319" stroke-width="1.5"/>
<text x="266.8" y="412.66" font-size="12.5" fill="#D95319" text-anchor="middle" font-weight="normal" >4×4</text>
<path d="M221,418.32H234.2" stroke="#EDB120" stroke-width="1.5"/>
<text x="266.8" y="425.92" font-size="12.5" fill="#EDB120" text-anchor="middle" font-weight="normal" >8×8</text>
<path d="M221,431.58H234.2" stroke="#7E2F8E" stroke-width="1.5"/>
<text x="266.8" y="439.18" font-size="12.5" fill="#7E2F8E" text-anchor="middle" font-weight="normal" >16×16</text>
<path d="M221,444.84H234.2" stroke="#77AC30" stroke-width="1.5"/>
<text x="266.8" y="452.44" font-size="12.5" fill="#77AC30" text-anchor="middle" font-weight="normal" >32×32</text>
<path d="M221,458.1H234.2" stroke="#4DBEEE" stroke-width="1.5"/>
<text x="266.8" y="465.7" font-size="12.5" fill="#4DBEEE" text-anchor="middle" font-weight="normal" >64×64</text>
<path d="M221,471.36H234.2" stroke="#A2142F" stroke-width="1.5"/>
<text x="266.8" y="478.96" font-size="12.5" fill="#A2142F" text-anchor="middle" font-weight="normal" >128×128</text>
<path d="M221,484.62H234.2" stroke="#808080" stroke-width="1.5"/>
<text x="266.8" y="492.22" font-size="12.5" fill="#808080" text-anchor="middle" font-weight="normal" >256×256</text>
<path d="M221,497.88H234.2" stroke="#1A80B3" stroke-width="1.5"/>
<text x="266.8" y="505.48" font-size="12.5" fill="#1A80B3" text-anchor="middle" font-weight="normal" >256×256</text>
<text x="268.5" y="519.4" font-size="12.5" fill="#1A80B3" text-anchor="middle" font-weight="normal" >(SVD core)</text>
<text x="343.3" y="315.2" font-size="19" fill="#000" text-anchor="start" font-weight="bold" >d</text>
<text x="360.7" y="314.8" font-size="17.1" fill="#262626" text-anchor="start" font-weight="normal" >Estimated energy efficiency of the PIP core</text>
<polyline points="420.77,354.9 449.13,347.2 477.5,344.4 505.87,339.9 534.23,338 562.6,338.7 590.97,362.6 619.33,362.6" fill="none" stroke="#FF0000" stroke-width="1.5" stroke-linejoin="round"/>
<path d="M418.17,354.9H423.37M420.77,352.3V357.5" stroke="#FF0000" stroke-width="1.4" fill="none"/>
<path d="M446.53,347.2H451.73M449.13,344.6V349.8" stroke="#FF0000" stroke-width="1.4" fill="none"/>
<path d="M474.9,344.4H480.1M477.5,341.8V347" stroke="#FF0000" stroke-width="1.4" fill="none"/>
<path d="M503.27,339.9H508.47M505.87,337.3V342.5" stroke="#FF0000" stroke-width="1.4" fill="none"/>
<path d="M531.63,338H536.83M534.23,335.4V340.6" stroke="#FF0000" stroke-width="1.4" fill="none"/>
<path d="M560,338.7H565.2M562.6,336.1V341.3" stroke="#FF0000" stroke-width="1.4" fill="none"/>
<path d="M588.37,362.6H593.57M590.97,360V365.2" stroke="#FF0000" stroke-width="1.4" fill="none"/>
<path d="M616.73,362.6H621.93M619.33,360V365.2" stroke="#FF0000" stroke-width="1.4" fill="none"/>
<polyline points="420.77,362.6 449.13,363.7 477.5,367.2 505.87,370.7 534.23,377 562.6,385.1 590.97,416.2 619.33,424.3" fill="none" stroke="#0072BD" stroke-width="1.5" stroke-linejoin="round"/>
<path d="M418.17,362.6H423.37M420.77,360V365.2" stroke="#0072BD" stroke-width="1.4" fill="none"/>
<path d="M446.53,363.7H451.73M449.13,361.1V366.3" stroke="#0072BD" stroke-width="1.4" fill="none"/>
<path d="M474.9,367.2H480.1M477.5,364.6V369.8" stroke="#0072BD" stroke-width="1.4" fill="none"/>
<path d="M503.27,370.7H508.47M505.87,368.1V373.3" stroke="#0072BD" stroke-width="1.4" fill="none"/>
<path d="M531.63,377H536.83M534.23,374.4V379.6" stroke="#0072BD" stroke-width="1.4" fill="none"/>
<path d="M560,385.1H565.2M562.6,382.5V387.7" stroke="#0072BD" stroke-width="1.4" fill="none"/>
<path d="M588.37,416.2H593.57M590.97,413.6V418.8" stroke="#0072BD" stroke-width="1.4" fill="none"/>
<path d="M616.73,424.3H621.93M619.33,421.7V426.9" stroke="#0072BD" stroke-width="1.4" fill="none"/>
<path d="M560.2,354.3H565M562.6,351.9V356.7" stroke="#EDB120" stroke-width="1.3" fill="none"/>
<path d="M554.7,363H559.5M557.1,360.6V365.4" stroke="#EDB120" stroke-width="1.3" fill="none"/>
<path d="M446.4,388.6H451.2M448.8,386.2V391" stroke="#EDB120" stroke-width="1.3" fill="none"/>
<circle cx="619.4" cy="367" r="2.3" stroke="#D95319" stroke-width="1.0" fill="none"/>
<circle cx="477.5" cy="383.5" r="2.3" stroke="#D95319" stroke-width="1.0" fill="none"/>
<circle cx="619.5" cy="410.5" r="2.3" stroke="#D95319" stroke-width="1.0" fill="none"/>
<circle cx="619.5" cy="420.4" r="2.3" stroke="#D95319" stroke-width="1.0" fill="none"/>
<circle cx="420.6" cy="438.3" r="2.3" stroke="#D95319" stroke-width="1.0" fill="none"/>
<circle cx="449.2" cy="513" r="2.3" stroke="#D95319" stroke-width="1.0" fill="none"/>
<text x="492.3" y="358.6" font-size="12.7" fill="#EDB120" text-anchor="start" font-weight="normal" >PCM/WDM<tspan font-size="8.8" dy="-5.2">9</tspan></text>
<text x="535.8" y="377" font-size="12.7" fill="#EDB120" text-anchor="start" font-weight="normal" >Hybrid laser<tspan font-size="8.8" dy="-5.2">28</tspan></text>
<text x="610.4" y="383.8" font-size="12.7" fill="#D95319" text-anchor="start" font-weight="normal" >TPU<tspan font-size="8.8" dy="-5.2">2</tspan></text>
<text x="484" y="394.2" font-size="12.7" fill="#D95319" text-anchor="start" font-weight="normal" >PCM/WDM<tspan font-size="8.8" dy="-5.2">9</tspan></text>
<text x="417.2" y="405" font-size="12.7" fill="#EDB120" text-anchor="start" font-weight="normal" >SVD mesh<tspan font-size="8.8" dy="-5.2">8</tspan></text>
<text x="605.4" y="405.8" font-size="12.7" fill="#D95319" text-anchor="start" font-weight="normal" >GPU<tspan font-size="8.8" dy="-5.2">29</tspan></text>
<text x="605.4" y="437.6" font-size="12.7" fill="#D95319" text-anchor="start" font-weight="normal" >CPU<tspan font-size="8.8" dy="-5.2">2</tspan></text>
<text x="422.8" y="437.7" font-size="12.7" fill="#D95319" text-anchor="start" font-weight="normal" >Coherent PIP</text>
<text x="431.8" y="451.5" font-size="12.7" fill="#D95319" text-anchor="start" font-weight="normal" >(This work)</text>
<text x="413" y="492.3" font-size="12.7" fill="#D95319" text-anchor="start" font-weight="normal" >Lossless PIP</text>
<text x="418.7" y="506.6" font-size="12.7" fill="#D95319" text-anchor="start" font-weight="normal" >(This work)</text>
<circle cx="538" cy="451.4" r="2.3" stroke="#D95319" stroke-width="1.0" fill="none"/>
<text x="567.4" y="454.3" font-size="11.2" fill="#D95319" text-anchor="start" font-weight="normal" >Demonstrated</text>
<path d="M535.6,467.1H540.4M538,464.7V469.5" stroke="#EDB120" stroke-width="1.3" fill="none"/>
<text x="576.1" y="470.1" font-size="11.2" fill="#EDB120" text-anchor="start" font-weight="normal" >Predicted</text>
<path d="M530.4,485.2H546.6" stroke="#FF0000" stroke-width="1.5"/>
<path d="M535.8,485.2H541M538.4,482.6V487.8" stroke="#FF0000" stroke-width="1.4" fill="none"/>
<text x="558" y="482.8" font-size="11.2" fill="#FF0000" text-anchor="start" font-weight="normal" >Fully integrated</text>
<text x="561.6" y="496.5" font-size="11.2" fill="#FF0000" text-anchor="start" font-weight="normal" >PIP (wt WDM)</text>
<path d="M530.4,512.5H546.6" stroke="#0072BD" stroke-width="1.5"/>
<path d="M535.8,512.5H541M538.4,509.9V515.1" stroke="#0072BD" stroke-width="1.4" fill="none"/>
<text x="558" y="508.8" font-size="11.2" fill="#0072BD" text-anchor="start" font-weight="normal" >Fully integrated</text>
<text x="561" y="522.7" font-size="11.2" fill="#0072BD" text-anchor="start" font-weight="normal" >PIP (wo WDM)</text>
<rect x="392.4" y="330" width="255.3" height="200.3" fill="none" stroke="#262626" stroke-width="1.2"/>
<path d="M392.4,530.3H394.9" stroke="#262626" stroke-width="1.0"/>
<path d="M392.4,491.78H394.9" stroke="#262626" stroke-width="1.0"/>
<path d="M392.4,453.26H394.9" stroke="#262626" stroke-width="1.0"/>
<path d="M392.4,414.74H394.9" stroke="#262626" stroke-width="1.0"/>
<path d="M392.4,376.22H394.9" stroke="#262626" stroke-width="1.0"/>
<path d="M392.4,337.7H394.9" stroke="#262626" stroke-width="1.0"/>
<path d="M420.77,530.3V527.8" stroke="#262626" stroke-width="1.0"/>
<path d="M449.13,530.3V527.8" stroke="#262626" stroke-width="1.0"/>
<path d="M477.5,530.3V527.8" stroke="#262626" stroke-width="1.0"/>
<path d="M505.87,530.3V527.8" stroke="#262626" stroke-width="1.0"/>
<path d="M534.23,530.3V527.8" stroke="#262626" stroke-width="1.0"/>
<path d="M562.6,530.3V527.8" stroke="#262626" stroke-width="1.0"/>
<path d="M590.97,530.3V527.8" stroke="#262626" stroke-width="1.0"/>
<path d="M619.33,530.3V527.8" stroke="#262626" stroke-width="1.0"/>
<text x="389.6" y="536.8" font-size="14" fill="#262626" text-anchor="end" font-weight="normal" >-20</text>
<text x="389.6" y="498.28" font-size="14" fill="#262626" text-anchor="end" font-weight="normal" >-15</text>
<text x="389.6" y="459.76" font-size="14" fill="#262626" text-anchor="end" font-weight="normal" >-10</text>
<text x="389.6" y="421.24" font-size="14" fill="#262626" text-anchor="end" font-weight="normal" >-5</text>
<text x="389.6" y="382.72" font-size="14" fill="#262626" text-anchor="end" font-weight="normal" >0</text>
<text x="389.6" y="344.2" font-size="14" fill="#262626" text-anchor="end" font-weight="normal" >5</text>
<text x="421.57" y="548.7" font-size="14.3" fill="#262626" text-anchor="middle" font-weight="normal" >2</text>
<text x="449.93" y="548.7" font-size="14.3" fill="#262626" text-anchor="middle" font-weight="normal" >4</text>
<text x="478.3" y="548.7" font-size="14.3" fill="#262626" text-anchor="middle" font-weight="normal" >8</text>
<text x="506.67" y="548.7" font-size="14.3" fill="#262626" text-anchor="middle" font-weight="normal" >16</text>
<text x="535.03" y="548.7" font-size="14.3" fill="#262626" text-anchor="middle" font-weight="normal" >32</text>
<text x="563.4" y="548.7" font-size="14.3" fill="#262626" text-anchor="middle" font-weight="normal" >64</text>
<text x="591.77" y="548.7" font-size="14.3" fill="#262626" text-anchor="middle" font-weight="normal" >128</text>
<text x="620.13" y="548.7" font-size="14.3" fill="#262626" text-anchor="middle" font-weight="normal" >256</text>
<text x="519.6" y="566.9" font-size="15" fill="#262626" text-anchor="middle" font-weight="normal" >Matrix size (<tspan font-style="italic">N</tspan>)</text>
<text transform="translate(365.1,434.8) rotate(-90)" font-size="15" fill="#262626" text-anchor="middle" >Log2(Energy efficiency) (TOPS/W)</text>
</svg>
</body></html>
